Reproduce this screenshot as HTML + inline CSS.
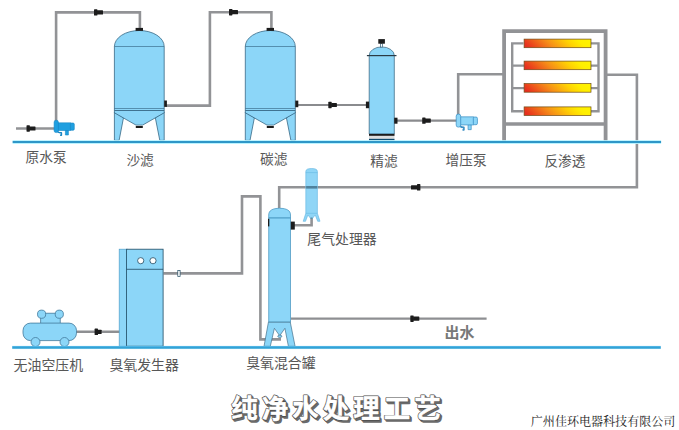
<!DOCTYPE html>
<html lang="zh"><head><meta charset="utf-8"><title>纯净水处理工艺</title>
<style>
html,body{margin:0;padding:0;background:#fff;}
body{width:679px;height:430px;position:relative;overflow:hidden;font-family:"Liberation Sans",sans-serif;}
svg{position:absolute;left:0;top:0;display:block}
.t{position:absolute;color:transparent;white-space:nowrap;line-height:1;font-family:"Liberation Sans",sans-serif;user-select:none}
</style></head><body>
<span class="t" style="left:25px;top:150px;font-size:14px">原水泵</span>
<span class="t" style="left:126px;top:152px;font-size:14px">沙滤</span>
<span class="t" style="left:260px;top:152px;font-size:14px">碳滤</span>
<span class="t" style="left:370px;top:153px;font-size:14px">精滤</span>
<span class="t" style="left:445px;top:153px;font-size:14px">增压泵</span>
<span class="t" style="left:544px;top:153px;font-size:14px">反渗透</span>
<span class="t" style="left:307px;top:231px;font-size:14px">尾气处理器</span>
<span class="t" style="left:13px;top:358px;font-size:14px">无油空压机</span>
<span class="t" style="left:109px;top:357px;font-size:14px">臭氧发生器</span>
<span class="t" style="left:246px;top:355px;font-size:14px">臭氧混合罐</span>
<span class="t" style="left:444px;top:326px;font-size:13px">出水</span>
<span class="t" style="left:530px;top:416px;font-size:12px">广州佳环电器科技有限公司</span>
<span class="t" style="left:231px;top:396px;font-size:24px">纯净水处理工艺</span>
<svg width="679" height="430" viewBox="0 0 679 430">
<defs><linearGradient id="gl1" x1="0" y1="0" x2="0" y2="1"><stop offset="0" stop-color="#c4f6ff" stop-opacity="0"/><stop offset="0.22" stop-color="#b4f2ff"/><stop offset="0.31" stop-color="#2f97c8"/><stop offset="0.71" stop-color="#2f97c8"/><stop offset="0.8" stop-color="#b4f2ff"/><stop offset="1" stop-color="#c4f6ff" stop-opacity="0"/></linearGradient><linearGradient id="gl2" x1="0" y1="0" x2="0" y2="1"><stop offset="0" stop-color="#8fd8fa" stop-opacity="0"/><stop offset="0.14" stop-color="#7ad0f8"/><stop offset="0.34" stop-color="#33a2d6"/><stop offset="0.7" stop-color="#33a2d6"/><stop offset="0.84" stop-color="#c4f0f8"/><stop offset="1" stop-color="#d8fbff" stop-opacity="0"/></linearGradient><linearGradient id="mg" x1="0" y1="0.57" x2="1" y2="0.43"><stop offset="0" stop-color="#e62e1f"/><stop offset="0.08" stop-color="#ea401c"/><stop offset="0.38" stop-color="#f68e18"/><stop offset="0.68" stop-color="#ffd203"/><stop offset="0.85" stop-color="#ffee00"/><stop offset="1" stop-color="#fff200"/></linearGradient></defs>
<g fill="none" stroke="#929396" stroke-width="2.6" stroke-linejoin="miter">
<path d="M16 128.5H55"/>
<path d="M56.1 122V12.4H139.9V29"/>
<path d="M166 105.6H209.9V12.2H271.4V29"/>
<path d="M458.2 116V74.2H503"/>
<path d="M606 74.8H636.9V187.3H279.2V208"/>
<path d="M163.5 273.4H242V196.4H260.4V339.4H281"/>
<path d="M294 225.3H311.6V218"/>
</g>
<g fill="none" stroke="#8a8b8e" stroke-width="2.1">
<path d="M297 105H366"/>
<path d="M397 120.6H457"/>
<path d="M76.5 331.8H120" stroke-width="2.4" stroke="#8e8f92"/>
<path d="M291 318.7H486.6" stroke-width="2.2" stroke="#8e8f92"/>
</g>
<g fill="#8cd6f8" stroke="#2f607d" stroke-width="0.75" stroke-linejoin="round">
<path d="M114.4 112V140.4H119.1L123.5 117.7L114.4 112Z"/>
<path d="M164.2 112V140.4H159.8L155.3 117.7L164.2 112Z"/>
<path d="M114.4 110.5V112.8L136.0 125.1H142.6L164.2 112.8V110.5Z"/>
<path d="M114.4 110.5V46.5A24.89999999999999 16 0 0 1 164.2 46.5V110.5Z"/>
<path d="M114.4 46.5H164.2M114.4 108.5H164.2" fill="none" stroke-width="0.6"/>
</g>
<rect x="135.6" y="27.9" width="7.4" height="3" fill="#1c1c1c"/>
<rect x="135.8" y="126" width="7" height="2" fill="#1c1c1c"/>
<g fill="#8cd6f8" stroke="#2f607d" stroke-width="0.75" stroke-linejoin="round">
<path d="M245.3 112V140.4H250.0L254.4 117.7L245.3 112Z"/>
<path d="M295.3 112V140.4H290.9L286.4 117.7L295.3 112Z"/>
<path d="M245.3 110.5V112.8L267.0 125.1H273.6L295.3 112.8V110.5Z"/>
<path d="M245.3 110.5V46.5A25.0 16 0 0 1 295.3 46.5V110.5Z"/>
<path d="M245.3 46.5H295.3M245.3 108.5H295.3" fill="none" stroke-width="0.6"/>
</g>
<rect x="266.6" y="27.9" width="7.4" height="3" fill="#1c1c1c"/>
<rect x="266.8" y="126" width="7" height="2" fill="#1c1c1c"/>
<rect x="164.2" y="100.5" width="2.7" height="6.4" fill="#1c1c1c"/>
<rect x="295.3" y="100.6" width="3" height="6.6" fill="#1c1c1c"/>
<g fill="#8cd6f8" stroke="#2f5d78" stroke-width="0.7">
<path d="M369.2 134V55.5A12.55 8.6 0 0 1 394.3 55.5V134Z"/>
<rect x="380.6" y="43.7" width="2" height="3.4" fill="#fff"/>
</g>
<rect x="366.9" y="55" width="29.6" height="1.2" fill="#2a3a44"/>
<rect x="378.3" y="39.1" width="6.6" height="4.6" fill="#1c1c1c"/>
<rect x="369" y="133.9" width="25.5" height="2" fill="#1c1c1c"/>
<rect x="369" y="135.9" width="25.5" height="2.9" fill="#dcddde"/>
<rect x="369" y="138.8" width="25.5" height="1.7" fill="#0d4a6e"/>
<rect x="365.9" y="101.6" width="3.2" height="6.6" fill="#1c1c1c"/>
<rect x="394.2" y="117.7" width="3.3" height="6" fill="#1c1c1c"/>
<g transform="translate(54.1 120.2) scale(1.0) translate(-54.1 -120.2)" fill="#1f9fe0" stroke="#1886c4" stroke-width="0.6" stroke-linejoin="round">
<rect x="65.4" y="130.2" width="3" height="4.8"/>
<path d="M57.7 131.8Q59.1 132.8 61.4 132.8V135.2H60.1" fill="none" stroke="#1886c4" stroke-width="1.5"/>
<rect x="57.9" y="122.8" width="13" height="7.7"/>
<rect x="70.4" y="123.0" width="3.9" height="7.3" rx="1.3"/>
<rect x="54.1" y="120.2" width="4.3" height="12.4" rx="2"/>
</g>
<g transform="translate(456.2 114.1) scale(1.05) translate(-456.2 -114.1)" fill="#8cd6f8" stroke="#3b8fc4" stroke-width="0.7" stroke-linejoin="round">
<rect x="467.5" y="124.1" width="3" height="4.8"/>
<path d="M459.8 125.7Q461.2 126.7 463.5 126.7V129.1H462.2" fill="none" stroke="#3b8fc4" stroke-width="1.6"/>
<rect x="460.0" y="116.7" width="13" height="7.7"/>
<rect x="472.5" y="116.9" width="3.9" height="7.3" rx="1.3"/>
<rect x="456.2" y="114.1" width="4.3" height="12.4" rx="2"/>
</g>
<g fill="none" stroke="#929396">
<path d="M504.1 141V31.2H605.6V141" stroke-width="3.8"/>
<path d="M504 124H605.6" stroke-width="3.4"/>
<path d="M523.5 43.4H512.2V111.3H523.5M512 65.6H524M512 88.1H524" stroke-width="2.4"/>
<path d="M591 43.4H598.5V111.3H591M598.5 65.6H591M598.5 88.1H591" stroke-width="2.4"/>
</g>
<rect x="524.1" y="39.1" width="66.9" height="8.6" fill="url(#mg)" stroke="#6e4b16" stroke-width="0.7"/>
<rect x="524.1" y="61.1" width="66.9" height="8.6" fill="url(#mg)" stroke="#6e4b16" stroke-width="0.7"/>
<rect x="524.1" y="83.6" width="66.9" height="8.6" fill="url(#mg)" stroke="#6e4b16" stroke-width="0.7"/>
<rect x="524.1" y="106.9" width="66.9" height="8.6" fill="url(#mg)" stroke="#6e4b16" stroke-width="0.7"/>
<g fill="#8fd5f6" stroke="#5fb4e0" stroke-width="0.6" stroke-linejoin="round">
<path d="M305.8 213.3V171.4Q305.8 168.5 311.6 168.5Q317.4 168.5 317.4 171.4V213.3L320 221.3H317.7L315.2 215L312.4 218.5H310.7L307.9 215L305.5 221.3H303.2Z"/>
<path d="M305.8 172.6H317.4M305.8 213.3H317.4" fill="none" stroke-width="0.5"/>
</g>
<rect x="306.1" y="186" width="11" height="2.6" fill="#4f819c"/>
<rect x="310.6" y="217.5" width="1.9" height="1.4" fill="#5d8aa0"/>
<g fill="#8cd6f8" stroke="#4aa3d6" stroke-width="0.7" stroke-linejoin="round">
<path d="M268.7 322.2V215C268.7 210.4 272.6 208.3 279.6 208.3C286.6 208.3 290.5 210.4 290.5 215V322.2Z" stroke="#3f8fbb"/>
<path d="M268.7 217.9H290.5" fill="none" stroke="#4796c0" stroke-width="1.1"/>
<path d="M268.4 322.2H290.3L295.1 346.3H288.4L284.9 328.3L279.7 335.8L274.4 328.3L270.3 346.3H264Z" stroke="#2f5d78" stroke-width="0.6"/>
<ellipse cx="279.8" cy="336.3" rx="2" ry="1.2" stroke="#2f5d78" stroke-width="0.6"/>
</g>
<rect x="290.8" y="221.6" width="4" height="8" fill="#1c1c1c"/>
<rect x="268" y="218.8" width="1.3" height="7.6" fill="#1c1c1c"/>
<g fill="#8cd6f8" stroke="#1f4a62" stroke-width="0.8">
<rect x="119.2" y="249.2" width="8" height="97" stroke="#4f9fca" stroke-width="0.7"/>
<rect x="126.6" y="249.2" width="36.5" height="97"/>
<path d="M126.6 269.3H163.1" fill="none"/>
<circle cx="140.7" cy="260.7" r="3.1" fill="#fff"/>
<circle cx="153" cy="260.7" r="3.1" fill="#fff"/>
<rect x="177.8" y="270.4" width="2.3" height="6.2" fill="#fff" stroke-width="0.7"/>
</g>
<g fill="#8cd6f8" stroke="#43789a" stroke-width="0.8">
<rect x="40.7" y="313.2" width="19.5" height="11"/>
<circle cx="41.6" cy="314.2" r="4.1"/>
<circle cx="59.3" cy="314.2" r="4.1"/>
<rect x="23" y="323.1" width="53.5" height="17.5" rx="7.5"/>
<circle cx="35.5" cy="342" r="4.5"/>
<circle cx="64.5" cy="342" r="4.5"/>
</g>
<rect x="12.6" y="139.6" width="648.5" height="4.8" fill="url(#gl1)"/>
<rect x="12.2" y="345.4" width="648.6" height="4.2" fill="url(#gl2)"/>
<g fill="#1c1c1c">
<rect x="26.5" y="125.3" width="3.4" height="6.4" rx="0.6"/>
<rect x="29.3" y="126.4" width="6.2" height="4.2" rx="0.5"/>
<rect x="94.0" y="9.2" width="3.4" height="6.4" rx="0.6"/>
<rect x="96.8" y="10.3" width="6.2" height="4.2" rx="0.5"/>
<rect x="229.0" y="9.0" width="3.4" height="6.4" rx="0.6"/>
<rect x="231.8" y="10.1" width="6.2" height="4.2" rx="0.5"/>
<rect x="328.3" y="101.8" width="3.4" height="6.4" rx="0.6"/>
<rect x="331.1" y="102.9" width="5.8" height="4.2" rx="0.5"/>
<rect x="422.2" y="117.4" width="3.4" height="6.4" rx="0.6"/>
<rect x="425.0" y="118.5" width="5.8" height="4.2" rx="0.5"/>
<rect x="417.0" y="184.1" width="3.4" height="6.4" rx="0.6"/>
<rect x="411.0" y="185.2" width="6.6" height="4.2" rx="0.5"/>
<rect x="94.6" y="328.6" width="3.4" height="6.4" rx="0.6"/>
<rect x="97.4" y="329.7" width="4.2" height="4.2" rx="0.5"/>
<rect x="410.3" y="315.5" width="3.4" height="6.4" rx="0.6"/>
<rect x="413.1" y="316.6" width="6.2" height="4.2" rx="0.5"/>
</g>
<g fill="#575757" font-family="&quot;Liberation Sans&quot;, &quot;Noto Sans CJK SC&quot;, sans-serif" font-size="13.7">
<text x="25.5" y="162">原水泵</text>
<text x="126.4" y="164.6">沙滤</text>
<text x="260" y="164.3">碳滤</text>
<text x="370.2" y="165.7">精滤</text>
<text x="445.5" y="165.3">增压泵</text>
<text x="544.4" y="165.7">反渗透</text>
<text x="307.3" y="243.7" font-size="13.9">尾气处理器</text>
<text x="13.6" y="370.2" font-size="13.9">无油空压机</text>
<text x="109.4" y="369.8" font-size="13.9">臭氧发生器</text>
<text x="246.2" y="367.6" font-size="13.9">臭氧混合罐</text>
<text x="444.6" y="338" font-size="15" font-weight="bold" fill="#787878">出水</text>
</g>
<text x="530.8" y="426.4" font-size="12.05" fill="#1c1c1c" font-family="&quot;Liberation Serif&quot;, &quot;Noto Serif CJK SC&quot;, serif">广州佳环电器科技有限公司</text>
<g font-family="&quot;Liberation Sans&quot;, &quot;Noto Sans CJK SC&quot;, sans-serif" font-size="26.5" font-weight="bold" letter-spacing="4" stroke-linejoin="round">
<text x="231.3" y="418" transform="translate(1.7,1.7)" fill="#6a6a6a" stroke="#6a6a6a" stroke-width="1.7">纯净水处理工艺</text>
<text x="231.3" y="418" transform="translate(0.9,0.9)" fill="#6a6a6a" stroke="#6a6a6a" stroke-width="1.7">纯净水处理工艺</text>
<text x="231.3" y="418" fill="#4d4d4d" stroke="#4d4d4d" stroke-width="1.7">纯净水处理工艺</text>
<text x="231.3" y="418" fill="#fff" stroke="#fff" stroke-width="0.35">纯净水处理工艺</text>
</g>
</svg>
</body></html>
